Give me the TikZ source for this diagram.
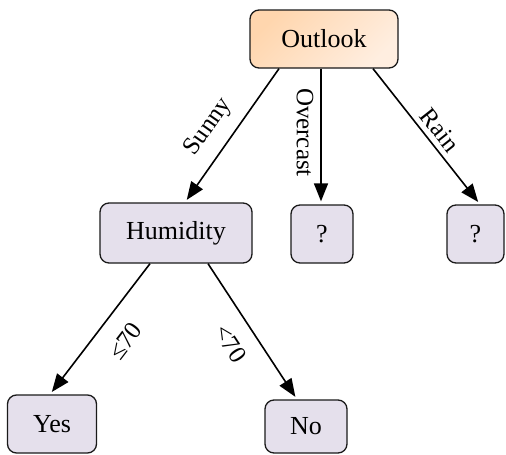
\documentclass[tikz,border=0pt]{standalone}
\usepackage{fontspec}
\setmainfont{Liberation Serif}
\usetikzlibrary{arrows.meta}
\definecolor{lav}{HTML}{E5E0EC}
\definecolor{orA}{HTML}{FFD6AE}
\definecolor{orB}{HTML}{FFEEE0}
\definecolor{edge}{HTML}{1A1A1A}
\begin{document}
\begin{tikzpicture}[x=1pt,y=1pt,
  box/.style={draw=edge, line width=1.3pt, rounded corners=9pt, fill=lav, inner sep=0pt,
    font=\fontsize{26}{30}\selectfont},
  arr/.style={-{Triangle[length=18pt,width=14pt]}, line width=1.6pt, shorten >=3pt},
  lab/.style={font=\fontsize{25}{30}\selectfont, inner sep=0pt}]
\useasboundingbox (0,0) rectangle (506,-455);
\node[box, minimum width=148pt, minimum height=58pt, top color=orA, bottom color=orB, shading angle=45] (outlook) at (324,-39) {Outlook};
\node[box, minimum width=152pt, minimum height=60pt] (humid) at (176,-233) {Humidity};
\node[box, minimum width=62pt, minimum height=58pt] (q1) at (322,-234) {?};
\node[box, minimum width=57pt, minimum height=58pt] (q2) at (475.5,-234) {?};
\node[box, minimum width=89pt, minimum height=58pt] (yes) at (52,-424) {Yes};
\node[box, minimum width=82pt, minimum height=53pt] (no) at (306,-426.5) {No};
\draw[arr] ([xshift=-45pt]outlook.south) -- node[lab, sloped, pos=0.54, above, outer sep=13pt]{Sunny} ([xshift=9pt]humid.north);
\draw[arr] ([xshift=-3pt]outlook.south) -- node[lab, rotate=-90, pos=0.47, anchor=north, outer sep=7.5pt]{Overcast} ([xshift=-1pt]q1.north);
\draw[arr] ([xshift=49pt]outlook.south) -- node[lab, sloped, pos=0.52, above, outer sep=6pt]{Rain} ([xshift=4.5pt]q2.north);
\draw[arr] ([xshift=-26pt]humid.south) -- node[lab, sloped, pos=0.465, below, outer sep=19pt]{≤70} ([xshift=-2pt]yes.north);
\draw[arr] ([xshift=32pt]humid.south) -- node[lab, sloped, pos=0.49, below, outer sep=16.5pt]{<70} ([xshift=-9pt]no.north);
\end{tikzpicture}
\end{document}
